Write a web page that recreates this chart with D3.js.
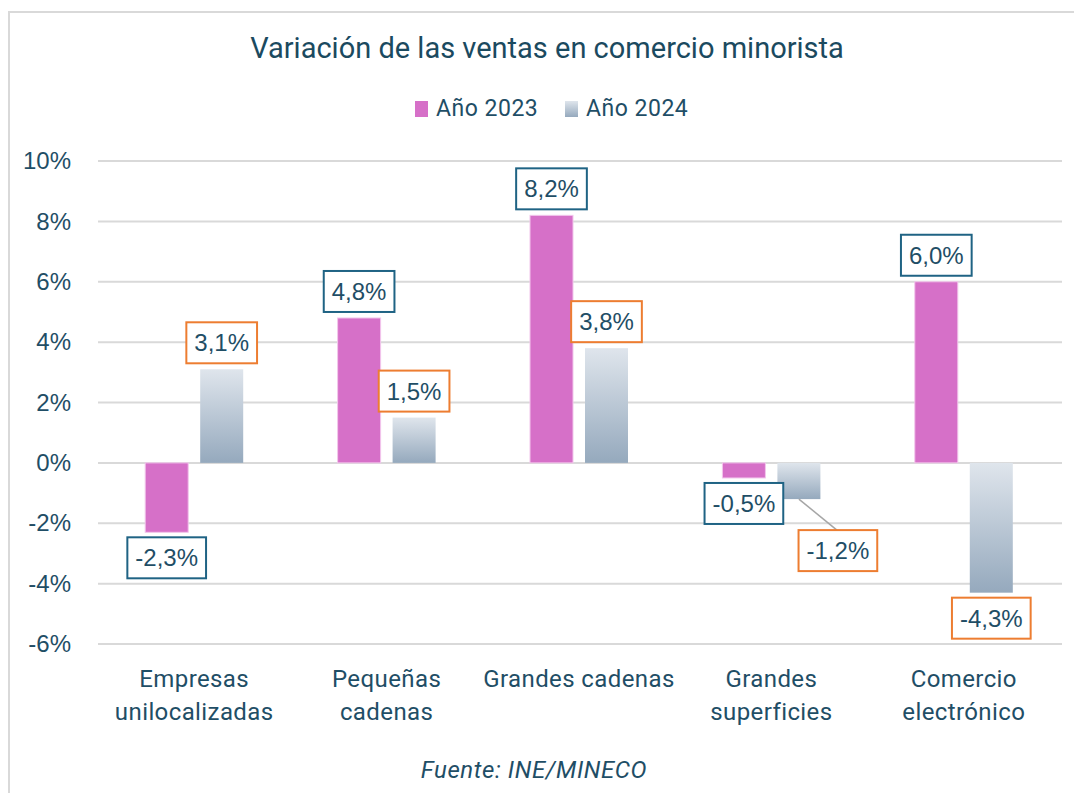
<!DOCTYPE html>
<html>
<head>
<meta charset="utf-8">
<script src="https://cdn.jsdelivr.net/npm/d3@7"></script>
<style>
  body { margin: 0; background: #fff; }
  svg { display: block; }
</style>
</head>
<body>
<div id="chart"></div>
<script>
// datos
var categories = [
  ["Empresas", "unilocalizadas"],
  ["Pequeñas", "cadenas"],
  ["Grandes cadenas"],
  ["Grandes", "superficies"],
  ["Comercio", "electrónico"]
];
var series = ["Año 2023", "Año 2024"];
var values2023 = [-2.3, 4.8, 8.2, -0.5, 6.0];
var values2024 = [3.1, 1.5, 3.8, -1.2, -4.3];
var yTicks = [-6, -4, -2, 0, 2, 4, 6, 8, 10];

var W = 1074, H = 793;
var textColor = "#1f4e66";
var svg = d3.select("#chart").append("svg")
  .attr("width", W).attr("height", H);

var defs = svg.append("defs");
var grad = defs.append("linearGradient")
  .attr("id", "greyGrad")
  .attr("x1", 0).attr("y1", 0).attr("x2", 0).attr("y2", 1);
grad.append("stop").attr("offset", "0%").attr("stop-color", "#dfe5ec");
grad.append("stop").attr("offset", "100%").attr("stop-color", "#95a9bd");

// marco
svg.append("path")
  .attr("d", "M9,793 V12 H1074")
  .attr("fill", "none").attr("stroke", "#d9d9d9").attr("stroke-width", 2);

var catKeys = categories.map(function(c) { return c.join(" "); });

var x = d3.scaleBand().domain(catKeys).range([98, 1060]);
var x1 = d3.scaleBand().domain(series)
  .range([x.bandwidth() / 2 - 49, x.bandwidth() / 2 + 49])
  .paddingInner(0.218);
var y = d3.scaleLinear().domain([-6, 10]).range([644, 161]);

// rejilla
svg.append("g").selectAll("line")
  .data(yTicks).enter().append("line")
  .attr("x1", 98).attr("x2", 1062)
  .attr("y1", function(d) { return y(d); })
  .attr("y2", function(d) { return y(d); })
  .attr("stroke", "#d9d9d9").attr("stroke-width", 2);

// eje y
var yAxis = svg.append("g")
  .attr("transform", "translate(71,0)")
  .call(d3.axisLeft(y).tickValues(yTicks).tickSize(0).tickPadding(0)
    .tickFormat(function(d) { return d + "%"; }));
yAxis.select(".domain").remove();
yAxis.selectAll("text")
  .attr("font-family", "Liberation Sans, Arial, sans-serif")
  .attr("font-size", 24).attr("fill", textColor);

// título
svg.append("text")
  .attr("x", 547).attr("y", 58)
  .attr("text-anchor", "middle")
  .attr("font-family", "Roboto, sans-serif")
  .attr("font-size", 29).attr("fill", "#1b4a5f")
  .text("Variación de las ventas en comercio minorista");

// leyenda
var legend = svg.append("g");
var legX = [415, 565];
series.forEach(function(s, i) {
  legend.append("rect")
    .attr("x", legX[i]).attr("y", 101).attr("width", 13).attr("height", 16)
    .attr("fill", i === 0 ? "#d670c8" : "url(#greyGrad)");
  legend.append("text")
    .attr("x", legX[i] + 21).attr("y", 116)
    .attr("font-family", "Roboto, sans-serif")
    .attr("font-size", 23).attr("letter-spacing", 0.5).attr("fill", textColor)
    .text(s);
});

var rows = [];
catKeys.forEach(function(k, i) {
  rows.push({ cat: k, s: series[0], v: values2023[i] });
  rows.push({ cat: k, s: series[1], v: values2024[i] });
});

// barras
svg.append("g").selectAll("rect")
  .data(rows).enter().append("rect")
  .attr("x", function(d) { return x(d.cat) + x1(d.s); })
  .attr("y", function(d) { return y(Math.max(0, d.v)); })
  .attr("width", x1.bandwidth())
  .attr("height", function(d) { return Math.abs(y(d.v) - y(0)); })
  .attr("fill", function(d) { return d.s === series[0] ? "#d670c8" : "url(#greyGrad)"; })
  .attr("stroke", function(d) { return d.s === series[0] ? "#f2c6ec" : "none"; })
  .attr("stroke-width", 1);

// etiquetas
var fmt = function(v) { return v.toFixed(1).replace(".", ",") + "%"; };
var labels = svg.append("g");
rows.forEach(function(d) {
  var cx = x(d.cat) + x1(d.s) + x1.bandwidth() / 2;
  var end = y(d.v);
  var bh = 41;
  var top = d.v >= 0 ? end - 6 - bh : end + 5;
  var lx = cx;
  // etiqueta desplazada con línea guía
  if (d.cat === "Grandes superficies" && d.s === series[1]) {
    lx = cx + 39;
    top = end + 31;
    labels.append("line")
      .attr("x1", cx).attr("y1", end)
      .attr("x2", lx - 1).attr("y2", top)
      .attr("stroke", "#a6a6a6").attr("stroke-width", 1.5);
  }
  var t = labels.append("text")
    .attr("x", lx).attr("y", top + bh / 2 + 8.5)
    .attr("text-anchor", "middle")
    .attr("font-family", "Liberation Sans, Arial, sans-serif")
    .attr("font-size", 24).attr("fill", textColor)
    .text(fmt(d.v));
  var tw = t.node().getComputedTextLength();
  labels.insert("rect", function() { return t.node(); })
    .attr("x", lx - tw / 2 - 8).attr("y", top)
    .attr("width", tw + 16).attr("height", bh)
    .attr("fill", "#fff")
    .attr("stroke", d.s === series[0] ? "#1f6384" : "#ed7d31")
    .attr("stroke-width", 2);
});

// categorías
var catG = svg.append("g");
categories.forEach(function(lines, i) {
  var t = catG.append("text")
    .attr("x", x(catKeys[i]) + x.bandwidth() / 2)
    .attr("text-anchor", "middle")
    .attr("font-family", "Roboto, sans-serif")
    .attr("font-size", 24).attr("letter-spacing", 0.4).attr("fill", textColor);
  lines.forEach(function(l, j) {
    t.append("tspan")
      .attr("x", x(catKeys[i]) + x.bandwidth() / 2)
      .attr("y", 687 + j * 33)
      .text(l);
  });
});

// fuente
svg.append("text")
  .attr("x", 534).attr("y", 778)
  .attr("text-anchor", "middle")
  .attr("font-family", "Roboto, sans-serif")
  .attr("font-style", "italic")
  .attr("font-size", 24).attr("letter-spacing", 0.6).attr("fill", textColor)
  .text("Fuente: INE/MINECO");
</script>
</body>
</html>
